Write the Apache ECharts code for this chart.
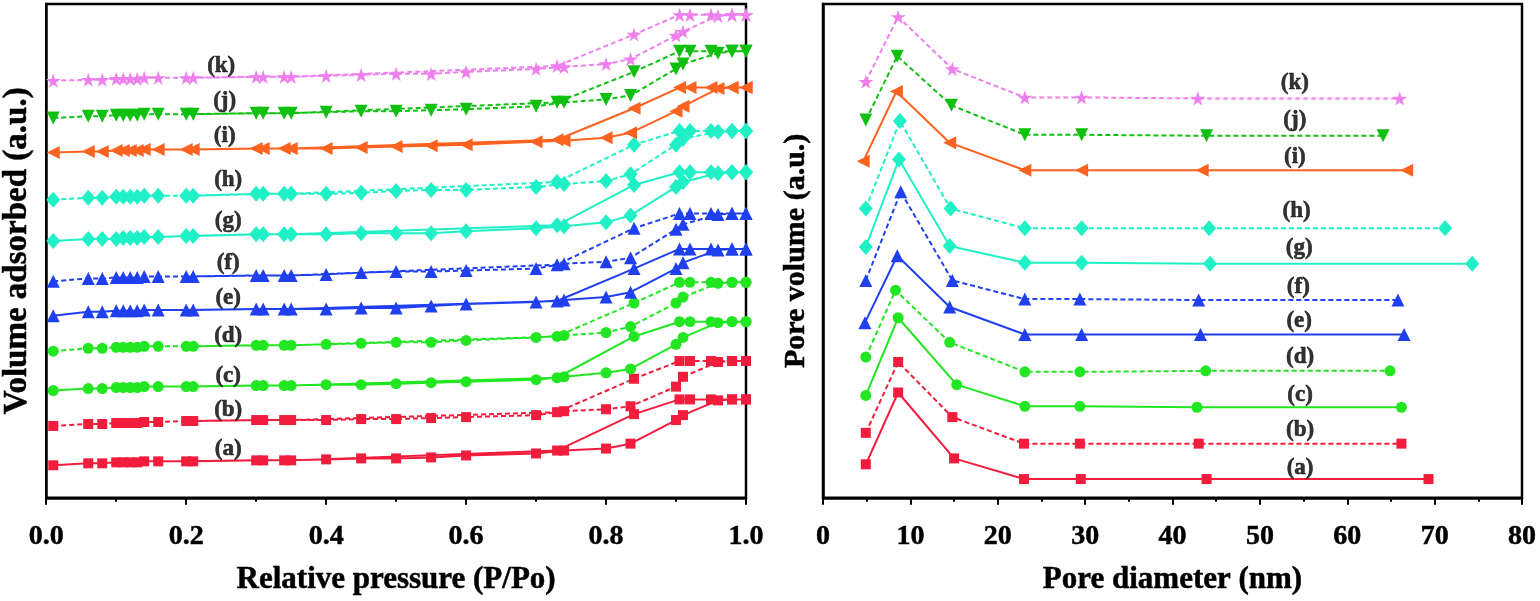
<!DOCTYPE html>
<html>
<head>
<meta charset="utf-8">
<script src="https://cdn.jsdelivr.net/npm/echarts@6.0.0/dist/echarts.min.js"></script>
<style>
  html, body { margin: 0; padding: 0; background: #fff; }
  #main { width: 1540px; height: 601px; }
</style>
</head>
<body>
<div id="main"></div>
<script>
// sample names
var sampleNames = ['(a)', '(b)', '(c)', '(d)', '(e)', '(f)', '(g)', '(h)', '(i)', '(j)', '(k)'];

// N2 isotherms: relative pressure of adsorption / desorption points
var adsP = [0.01, 0.06, 0.08, 0.10, 0.11, 0.12, 0.13, 0.14, 0.16, 0.20, 0.30, 0.34, 0.40, 0.45, 0.50, 0.55, 0.60, 0.70, 0.74, 0.80, 0.835, 0.90, 0.91, 0.96, 0.98, 1.00];
var desP = [1.00, 0.98, 0.95, 0.92, 0.905, 0.84, 0.73, 0.35, 0.31, 0.21];

// volume adsorbed (a.u., curves offset)
var adsA = [33, 35, 35, 36, 36, 36, 36, 37, 37, 37, 38, 38, 39, 40, 40, 41, 43, 45, 48, 50, 55, 79, 84, 99, 100, 100];
var desA = [100, 100, 100, 100, 100, 85, 48, 38, 38, 37];
var adsB = [73, 75, 75, 76, 76, 76, 76, 77, 77, 78, 79, 79, 79, 80, 80, 81, 82, 84, 88, 90, 93, 113, 123, 138, 139, 139];
var desB = [139, 139, 139, 139, 139, 121, 87, 79, 79, 78];
var adsC = [109, 111, 111, 112, 112, 112, 112, 113, 113, 113, 114, 114, 115, 115, 116, 117, 118, 120, 123, 127, 131, 156, 163, 178, 179, 179];
var desC = [179, 179, 179, 179, 179, 164, 122, 114, 114, 113];
var adsD = [149, 152, 152, 153, 153, 153, 153, 154, 154, 154, 155, 155, 156, 157, 158, 158, 160, 163, 165, 168, 174, 198, 204, 218, 219, 219];
var desD = [219, 219, 219, 219, 219, 198, 164, 155, 155, 154];
var adsE = [185, 189, 189, 190, 190, 190, 190, 191, 191, 191, 192, 192, 192, 193, 193, 195, 197, 199, 201, 204, 209, 233, 239, 252, 253, 253];
var desE = [253, 253, 253, 253, 253, 233, 200, 192, 192, 191];
var adsF = [220, 223, 223, 224, 224, 224, 224, 225, 225, 225, 226, 226, 227, 229, 230, 230, 231, 233, 238, 240, 244, 273, 278, 288, 289, 289];
var desF = [289, 289, 289, 289, 289, 274, 237, 226, 226, 225];
var adsG = [261, 263, 263, 263, 264, 264, 264, 265, 265, 266, 268, 268, 268, 269, 269, 269, 271, 274, 276, 280, 287, 316, 321, 330, 331, 331];
var desG = [331, 331, 331, 331, 331, 318, 277, 268, 268, 266];
var adsH = [303, 305, 305, 306, 306, 306, 306, 307, 307, 307, 309, 309, 309, 310, 312, 313, 313, 316, 319, 322, 329, 359, 365, 372, 373, 373];
var desH = [373, 373, 373, 373, 373, 359, 321, 309, 309, 307];
var adsI = [351, 352, 352, 353, 353, 353, 353, 354, 354, 354, 355, 355, 355, 356, 357, 358, 359, 362, 363, 366, 371, 393, 398, 416, 417, 417];
var desI = [417, 417, 417, 417, 417, 396, 364, 355, 355, 354];
var adsJ = [386, 388, 388, 389, 389, 389, 389, 390, 390, 390, 391, 391, 392, 393, 393, 394, 395, 398, 402, 405, 409, 436, 441, 452, 454, 454];
var desJ = [454, 454, 454, 454, 454, 433, 402, 391, 391, 390];
var adsK = [424, 425, 425, 426, 426, 426, 426, 427, 427, 427, 428, 428, 429, 430, 431, 431, 433, 436, 438, 441, 446, 470, 474, 490, 491, 491];
var desK = [491, 491, 491, 491, 491, 471, 439, 428, 428, 427];

// pore size distribution: diameter (nm) and pore volume (a.u., offset)
var poreXA = [4.9, 8.6, 15.0, 23.0, 29.5, 43.9, 69.3];
var poreYA = [34, 107, 40, 19, 19, 19, 19];
var poreXB = [4.9, 8.6, 14.8, 23.0, 29.4, 43.0, 66.2];
var poreYB = [66, 138, 82, 55, 55, 55, 55];
var poreXC = [4.9, 8.6, 15.3, 23.1, 29.4, 42.8, 66.2];
var poreYC = [104, 183, 115, 93, 93, 92, 92];
var poreXD = [4.9, 8.3, 14.5, 23.1, 29.4, 43.8, 64.9];
var poreYD = [143, 211, 158, 128, 128, 129, 129];
var poreXE = [4.8, 8.5, 14.5, 23.1, 29.6, 43.2, 66.5];
var poreYE = [178, 246, 194, 166, 166, 166, 166];
var poreXF = [4.9, 8.9, 14.8, 23.1, 29.4, 43.0, 65.8];
var poreYF = [221, 311, 221, 202, 202, 201, 201];
var poreXG = [4.9, 8.7, 14.5, 23.1, 29.6, 44.3, 74.3];
var poreYG = [255, 344, 256, 239, 239, 238, 238];
var poreXH = [4.9, 8.8, 14.6, 23.1, 29.6, 44.2, 71.2];
var poreYH = [294, 383, 294, 274, 274, 274, 274];
var poreXI = [4.6, 8.4, 14.5, 23.1, 29.6, 43.4, 66.8];
var poreYI = [342, 413, 361, 333, 333, 333, 333];
var poreXJ = [4.9, 8.5, 14.7, 23.1, 29.6, 43.9, 64.1];
var poreYJ = [384, 449, 399, 369, 369, 368, 368];
var poreXK = [4.9, 8.6, 14.8, 23.1, 29.6, 42.9, 66.0];
var poreYK = [423, 489, 436, 407, 407, 406, 406];

// where the (a)...(k) tags sit, in data units
var isoTagX = [0.26, 0.26, 0.26, 0.26, 0.26, 0.26, 0.26, 0.26, 0.255, 0.255, 0.25];
var isoTagY = [49, 89, 124, 164, 203, 239, 281, 323, 368, 403, 439];
var poreTagX = [54.6, 54.6, 54.6, 54.6, 54.5, 54.4, 54.5, 54.2, 54.0, 54.0, 54.0];
var poreTagY = [30, 69, 104, 143, 180, 214, 254, 291, 346, 384, 422];

var isoAds = [adsA, adsB, adsC, adsD, adsE, adsF, adsG, adsH, adsI, adsJ, adsK];
var isoDes = [desA, desB, desC, desD, desE, desF, desG, desH, desI, desJ, desK];
var poreX = [poreXA, poreXB, poreXC, poreXD, poreXE, poreXF, poreXG, poreXH, poreXI, poreXJ, poreXK];
var poreY = [poreYA, poreYB, poreYC, poreYD, poreYE, poreYF, poreYG, poreYH, poreYI, poreYJ, poreYK];

var RED = '#f21c3c', GREEN = '#22e622', BLUE = '#2040f0', CYAN = '#1ff0c6',
    ORANGE = '#fc6220', DKGREEN = '#10c010', VIOLET = '#ee80ee';
var STAR = 'path://M50,0 L61,35 L98,35 L68,57 L79,91 L50,70 L21,91 L32,57 L2,35 L39,35 Z';

// look of each sample: colour, marker, dashed or not
var styles = [
    {color: RED,     symbol: 'rect',     size: 10,       rot: 0,   dash: false},
    {color: RED,     symbol: 'rect',     size: 10,       rot: 0,   dash: true},
    {color: GREEN,   symbol: 'circle',   size: 11,       rot: 0,   dash: false},
    {color: GREEN,   symbol: 'circle',   size: 11,       rot: 0,   dash: true},
    {color: BLUE,    symbol: 'triangle', size: 13,       rot: 0,   dash: false},
    {color: BLUE,    symbol: 'triangle', size: 13,       rot: 0,   dash: true},
    {color: CYAN,    symbol: 'diamond',  size: [14, 16], rot: 0,   dash: false},
    {color: CYAN,    symbol: 'diamond',  size: [14, 16], rot: 0,   dash: true},
    {color: ORANGE,  symbol: 'triangle', size: 13,       rot: 90,  dash: false},
    {color: DKGREEN, symbol: 'triangle', size: 13,       rot: 180, dash: true},
    {color: VIOLET,  symbol: STAR,       size: 15,       rot: 0,   dash: true}
];

var FONT = '"Liberation Serif", "Times New Roman", serif';

function pairs(xs, ys) {
    var out = [];
    for (var i = 0; i < xs.length; i++) out.push([xs[i], ys[i]]);
    return out;
}

var series = [];
for (var s = 0; s < sampleNames.length; s++) {
    var st = styles[s];
    var lineStyle = {color: st.color, width: 2, type: st.dash ? [5, 3] : 'solid'};
    // isotherm: adsorption branch then desorption branch, drawn as one loop
    series.push({
        name: sampleNames[s] + ' iso',
        type: 'line',
        xAxisIndex: 0, yAxisIndex: 0,
        data: pairs(adsP, isoAds[s]).concat(pairs(desP, isoDes[s])),
        symbol: st.symbol, symbolSize: st.size, symbolRotate: st.rot,
        symbolKeepAspect: true,
        showAllSymbol: true,
        itemStyle: {color: st.color},
        lineStyle: lineStyle
    });
    series.push({
        name: sampleNames[s] + ' pore',
        type: 'line',
        xAxisIndex: 1, yAxisIndex: 1,
        data: pairs(poreX[s], poreY[s]),
        symbol: st.symbol, symbolSize: st.size, symbolRotate: st.rot,
        symbolKeepAspect: true,
        showAllSymbol: true,
        itemStyle: {color: st.color},
        lineStyle: lineStyle
    });
}

// (a)..(k) tags
function tags(xs, ys, gi) {
    var d = [];
    for (var i = 0; i < sampleNames.length; i++) d.push({name: sampleNames[i], value: [xs[i], ys[i]]});
    return {
        type: 'scatter', xAxisIndex: gi, yAxisIndex: gi,
        symbolSize: 0, data: d, z: 10, silent: true,
        label: {show: true, position: 'inside', formatter: '{b}', color: '#000',
                textBorderColor: '#000', textBorderWidth: 0.6,
                fontFamily: FONT, fontWeight: 'bold', fontSize: 23}
    };
}
series.push(tags(isoTagX, isoTagY, 0));
series.push(tags(poreTagX, poreTagY, 1));

function xAxisOf(gi, min, max, interval, name, fmt) {
    return {
        gridIndex: gi, type: 'value', min: min, max: max, interval: interval,
        name: name, nameLocation: 'middle', nameGap: 67,
        nameTextStyle: {fontFamily: FONT, fontWeight: 'bold', fontSize: 31, color: '#000',
                        textBorderColor: '#000', textBorderWidth: 0.5},
        axisLine: {show: true, onZero: false, lineStyle: {color: '#000', width: 2.5}},
        axisTick: {show: true, length: 7, lineStyle: {color: '#000', width: 2}},
        minorTick: {show: true, splitNumber: 2, length: 4, lineStyle: {color: '#000', width: 2}},
        axisLabel: {fontFamily: FONT, fontWeight: 'bold', fontSize: 28, color: '#000', margin: 25,
                    textBorderColor: '#000', textBorderWidth: 0.5, formatter: fmt},
        splitLine: {show: false}
    };
}
function yAxisOf(gi, name, size) {
    return {
        gridIndex: gi, type: 'value', min: 0, max: 502,
        name: name, nameLocation: 'middle', nameGap: 12,
        nameTextStyle: {fontFamily: FONT, fontWeight: 'bold', fontSize: size, color: '#000',
                        textBorderColor: '#000', textBorderWidth: 0.5},
        axisLine: {show: true, lineStyle: {color: '#000', width: 2.5}},
        axisTick: {show: false},
        axisLabel: {show: false},
        splitLine: {show: false}
    };
}

var option = {
    animation: false,
    backgroundColor: '#fff',
    grid: [
        {left: 44, top: 4, width: 702, height: 502, show: true, borderColor: '#000', borderWidth: 2.5},
        {left: 823, top: 4, width: 699, height: 502, show: true, borderColor: '#000', borderWidth: 2.5}
    ],
    xAxis: [
        xAxisOf(0, 0, 1, 0.2, 'Relative pressure (P/Po)', function (v) { return v.toFixed(1); }),
        xAxisOf(1, 0, 80, 10, 'Pore diameter (nm)', function (v) { return String(v); })
    ],
    yAxis: [
        yAxisOf(0, 'Volume adsorbed (a.u.)', 33),
        yAxisOf(1, 'Pore volume (a.u.)', 30)
    ],
    series: series
};

echarts.init(document.getElementById('main')).setOption(option);
</script>
</body>
</html>
